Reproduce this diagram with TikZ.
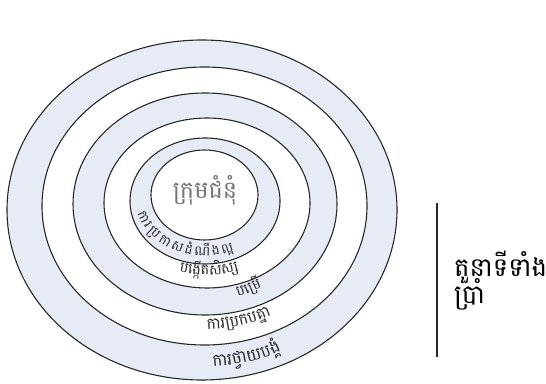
\documentclass[tikz,border=0pt]{standalone}
\usepackage{fontspec}
\newfontfamily\kh[Script=Khmer]{Battambang}
\definecolor{ringblue}{RGB}{230,235,246}
\definecolor{ringline}{RGB}{40,40,40}
\definecolor{titlegray}{RGB}{118,118,118}
\definecolor{ringtext}{RGB}{45,45,45}
\newcommand\khsize[1]{\fontsize{#1}{#1}\selectfont\kh}
\newsavebox\atbox
\newlength\atlen
\def\attrack{0}
\newcommand\measurecl[1]{%
  \pgfinterruptpicture
    \global\setbox\atbox=\hbox{#1}%
    \global\atlen=\wd\atbox
  \endpgfinterruptpicture
}
% #1 cx, #2 cy, #3 rx, #4 ry of baseline ellipse, #5 centre angle, #6 font, #7 clusters
\newcommand\arclabel[7]{%
  \gdef\atW{0}%
  \foreach \atc in {#7}{%
    \measurecl{#6\atc}%
    \pgfmathsetmacro\attmp{\atW+\atlen+\attrack}%
    \xdef\atW{\attmp}%
  }%
  \pgfmathsetmacro\atspd{100*sqrt((#3/100*sin(#5))^2+(#4/100*cos(#5))^2)}%
  \pgfmathsetmacro\atst{#5-0.5*\atW/\atspd*180/pi}%
  \xdef\atcur{\atst}%
  \foreach \atc in {#7}{%
    \measurecl{#6\atc}%
    \pgfmathsetmacro\atw{\atlen+\attrack}%
    \pgfmathsetmacro\atsp{100*sqrt((#3/100*sin(\atcur))^2+(#4/100*cos(\atcur))^2)}%
    \pgfmathsetmacro\attm{\atcur+0.5*\atw/\atsp*180/pi}%
    \pgfmathsetmacro\atrot{atan2(#4*cos(\attm),-#3*sin(\attm))}%
    \node[arclbl,rotate=\atrot] at ({#1+#3*cos(\attm)},{#2+#4*sin(\attm)}) {#6\atc};%
    \pgfmathsetmacro\atnt{\atcur+\atw/\atsp*180/pi}%
    \xdef\atcur{\atnt}%
  }%
}
\tikzset{
  ring/.style={draw=ringline, line width=1.1pt},
  arclbl/.style={inner sep=0pt, anchor=base, text=ringtext},
}
\begin{document}
\begin{tikzpicture}[x=1pt,y=1pt]
\useasboundingbox (0,0) rectangle (546,383);
% concentric rings
\draw[ring, fill=ringblue] (202,173)   ellipse [x radius=195,   y radius=170];
\draw[ring, fill=white]    (204.5,177) ellipse [x radius=162.5, y radius=139];
\draw[ring, fill=ringblue] (205,179)   ellipse [x radius=132,   y radius=111];
\draw[ring, fill=white]    (207,180)   ellipse [x radius=103,   y radius=85];
\draw[ring, fill=ringblue] (205,182)   ellipse [x radius=75,    y radius=63];
\draw[ring, fill=white]    (204.5,188) ellipse [x radius=53.5,  y radius=45];
% centre label
\node[text=titlegray, inner sep=0pt] (church) at (205,193) {\khsize{24}ក្រុមជំនុំ};
% ring labels
\def\attrack{2.2}
\arclabel{205}{185}{70}{58}{243}{\khsize{13.5}}{កា,រ,ប្រ,កា,ស,ដំ,ណឹ,ង,ល្អ}
\def\attrack{0}
\arclabel{206}{181}{88}{73}{272}{\khsize{14.5}}{ប,ង្កើ,ត,សិ,ស្ស}
\arclabel{206}{180}{113}{97}{293}{\khsize{14.5}}{ប,ម្រើ}
\arclabel{205}{178}{145}{124}{284}{\khsize{16}}{កា,រ,ប្រ,ក,ប,គ្នា}
\arclabel{203}{175}{180}{159}{284.5}{\khsize{17}}{កា,រ,ថ្វា,យ,ប,ង្គំ}
% side bar and title
\coordinate (bartop) at (437,180);
\coordinate (barbot) at (437,26);
\draw[line width=1.1pt, ringline] (bartop) -- (barbot);
\node[anchor=base west, inner sep=0pt] (roles1) at (454,106) {\khsize{26}តួនាទីទាំង};
\node[anchor=base west, inner sep=0pt] (roles2) at (454,80) {\khsize{26}ប្រាំ};
\end{tikzpicture}
\end{document}
